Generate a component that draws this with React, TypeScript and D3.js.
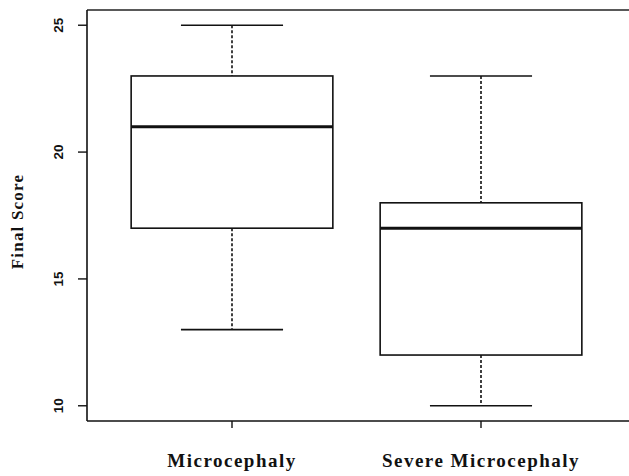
import React from "react";
import * as d3 from "d3";

const categories = ["Microcephaly", "Severe Microcephaly"];
const mins = [13, 10];
const q1s = [17, 12];
const medians = [21, 17];
const q3s = [23, 18];
const maxs = [25, 23];
const yTicks = [10, 15, 20, 25];
const yLabel = "Final Score";

const W = 629;
const H = 476;
const left = 87;
const top = 10;
const bottom = 421;

export default function App() {
  const y = d3.scaleLinear().domain([9.4, 25.6]).range([bottom, top]);
  const x = d3.scaleLinear().domain([1, 2]).range([232, 481]);
  const unit = x(2) - x(1);
  const boxW = 0.81 * unit;
  const capW = 0.41 * unit;

  return (
    <svg
      width={W}
      height={H}
      style={{ position: "absolute", left: 0, top: 0, background: "#fff" }}
    >
      <rect x={0} y={0} width={W} height={H} fill="#fff" />
      {/* frame */}
      <line x1={left} x2={W} y1={top} y2={top} stroke="#222" strokeWidth={1.6} />
      <line x1={left} x2={W} y1={bottom} y2={bottom} stroke="#111" strokeWidth={1.6} />
      <line x1={left} x2={left} y1={top} y2={bottom} stroke="#111" strokeWidth={1.6} />

      {/* y ticks */}
      {yTicks.map((t) => (
        <g key={t}>
          <line x1={left - 9} x2={left} y1={y(t)} y2={y(t)} stroke="#111" strokeWidth={1.4} />
          <text
            transform={`translate(${63},${y(t)}) rotate(-90)`}
            textAnchor="middle"
            fontFamily="Liberation Sans, Arial, sans-serif"
            fontWeight="bold"
            fontSize={13.5}
            fill="#111"
          >
            {t}
          </text>
        </g>
      ))}

      {/* y label */}
      <text
        transform={`translate(${23},${(top + bottom) / 2 + 6}) rotate(-90)`}
        textAnchor="middle"
        fontFamily="Liberation Serif, Times New Roman, serif"
        fontWeight="bold"
        fontSize={17}
        letterSpacing={1.2}
        fill="#111"
      >
        {yLabel}
      </text>

      {/* x ticks & labels */}
      {categories.map((c, i) => (
        <g key={c}>
          <line x1={x(i + 1)} x2={x(i + 1)} y1={bottom} y2={bottom + 7} stroke="#111" strokeWidth={1.4} />
          <text
            x={x(i + 1)}
            y={467}
            textAnchor="middle"
            fontFamily="Liberation Serif, Times New Roman, serif"
            fontWeight="bold"
            fontSize={19}
            letterSpacing={1.5}
            fill="#111"
          >
            {c}
          </text>
        </g>
      ))}

      {/* boxes */}
      {categories.map((c, i) => {
        const cx = x(i + 1);
        return (
          <g key={"b" + c}>
            <line x1={cx} x2={cx} y1={y(maxs[i])} y2={y(q3s[i])} stroke="#111" strokeWidth={1.6} strokeDasharray="3,2" />
            <line x1={cx} x2={cx} y1={y(q1s[i])} y2={y(mins[i])} stroke="#111" strokeWidth={1.6} strokeDasharray="3,2" />
            <line x1={cx - capW / 2} x2={cx + capW / 2} y1={y(maxs[i])} y2={y(maxs[i])} stroke="#111" strokeWidth={1.6} />
            <line x1={cx - capW / 2} x2={cx + capW / 2} y1={y(mins[i])} y2={y(mins[i])} stroke="#111" strokeWidth={1.6} />
            <rect
              x={cx - boxW / 2}
              y={y(q3s[i])}
              width={boxW}
              height={y(q1s[i]) - y(q3s[i])}
              fill="#fff"
              stroke="#111"
              strokeWidth={1.6}
            />
            <line x1={cx - boxW / 2} x2={cx + boxW / 2} y1={y(medians[i])} y2={y(medians[i])} stroke="#111" strokeWidth={3} />
          </g>
        );
      })}
    </svg>
  );
}
